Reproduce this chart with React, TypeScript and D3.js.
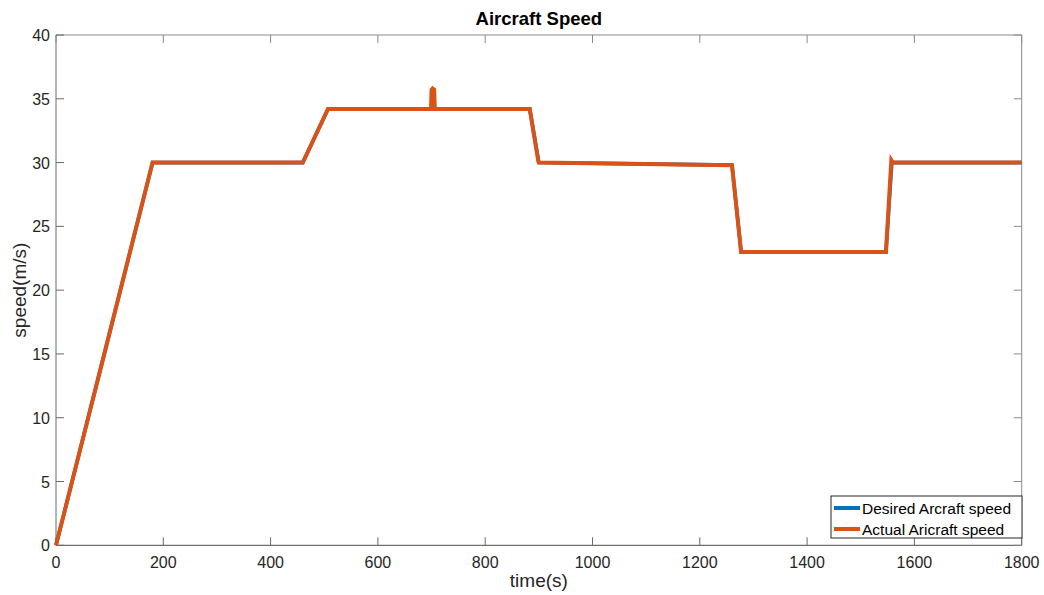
import React from "react";
import * as d3 from "d3";

// Time samples (s) and speeds (m/s)
const desiredTime = [0, 180, 460, 507, 883, 900, 1260, 1277, 1547, 1558, 1800];
const desiredSpeed = [0, 30, 30, 34.2, 34.2, 30, 29.8, 23, 23, 30, 30];

const actualTime = [0, 60, 180, 460, 507, 699, 700, 702, 705, 706, 883, 899, 900, 1260, 1277, 1547, 1557, 1560, 1800];
const actualSpeed = [0, 10, 30, 30, 34.2, 34.2, 35.7, 35.8, 35.7, 34.2, 34.2, 30.1, 30, 29.8, 23, 23, 30.2, 30, 30];

const xTicks = [0, 200, 400, 600, 800, 1000, 1200, 1400, 1600, 1800];
const yTicks = [0, 5, 10, 15, 20, 25, 30, 35, 40];

const legendLabels = ["Desired Arcraft speed", "Actual Aricraft speed"];
const seriesColors = ["#0072BD", "#D95319"];

const W = 1044;
const H = 595;
const left = 56;
const right = 1021.7;
const top = 35;
const bottom = 545.3;
const FONT = "'Liberation Sans', Arial, Helvetica, sans-serif";

export default function App() {
  const x = d3.scaleLinear().domain([0, 1800]).range([left, right]);
  const y = d3.scaleLinear().domain([0, 40]).range([bottom, top]);

  const line = d3
    .line<[number, number]>()
    .x((d) => x(d[0]))
    .y((d) => y(d[1]));

  const desired: [number, number][] = desiredTime.map((t, i) => [t, desiredSpeed[i]]);
  const actual: [number, number][] = actualTime.map((t, i) => [t, actualSpeed[i]]);

  const tickLen = 8;
  const axisColor = "#262626";

  const legX = 831;
  const legY = 496;
  const legW = 191;
  const legH = 42;

  return (
    <div style={{ position: "absolute", left: 0, top: 0, width: W, height: H, overflow: "hidden" }}>
      <svg width={W} height={H} style={{ display: "block", background: "#fff" }}>
        {/* axes frame */}
        <line x1={left} x2={right} y1={top} y2={top} stroke="#8a8a8a" strokeWidth={1} />
        <line x1={right} x2={right} y1={top} y2={bottom} stroke="#8a8a8a" strokeWidth={1} />
        <line x1={left} x2={right} y1={bottom} y2={bottom} stroke="#4a4a4a" strokeWidth={1} />
        <line x1={left} x2={left} y1={top} y2={bottom} stroke="#6a6a6a" strokeWidth={1} />

        {/* x ticks */}
        {xTicks.map((t) => (
          <g key={"x" + t}>
            <line x1={x(t)} x2={x(t)} y1={bottom} y2={bottom - tickLen} stroke="#6a6a6a" />
            <line x1={x(t)} x2={x(t)} y1={top} y2={top + tickLen} stroke="#8a8a8a" />
            <text
              x={x(t)}
              y={bottom + 23}
              textAnchor="middle"
              fontFamily={FONT}
              fontSize={16}
              fill={axisColor}
            >
              {t}
            </text>
          </g>
        ))}

        {/* y ticks */}
        {yTicks.map((v) => (
          <g key={"y" + v}>
            <line x1={left} x2={left + tickLen} y1={y(v)} y2={y(v)} stroke="#6a6a6a" />
            <line x1={right} x2={right - tickLen} y1={y(v)} y2={y(v)} stroke="#8a8a8a" />
            <text
              x={left - 6}
              y={y(v) + 6}
              textAnchor="end"
              fontFamily={FONT}
              fontSize={16}
              fill={axisColor}
            >
              {v}
            </text>
          </g>
        ))}

        {/* series */}
        <path d={line(desired) ?? ""} fill="none" stroke={seriesColors[0]} strokeWidth={3.6} />
        <path d={line(actual) ?? ""} fill="none" stroke={seriesColors[1]} strokeWidth={4} />

        {/* labels */}
        <text
          x={(left + right) / 2}
          y={25}
          textAnchor="middle"
          fontFamily={FONT}
          fontWeight="bold"
          fontSize={18.5}
          fill="#000"
        >
          Aircraft Speed
        </text>
        <text
          x={(left + right) / 2}
          y={587}
          textAnchor="middle"
          fontFamily={FONT}
          fontSize={19}
          fill={axisColor}
        >
          time(s)
        </text>
        <text
          transform={`translate(26, ${(top + bottom) / 2}) rotate(-90)`}
          textAnchor="middle"
          fontFamily={FONT}
          fontSize={19}
          fill={axisColor}
        >
          speed(m/s)
        </text>

        {/* legend */}
        <rect x={legX} y={legY} width={legW} height={legH} fill="#fff" stroke="#262626" strokeWidth={1} />
        {legendLabels.map((lab, i) => (
          <g key={lab}>
            <line
              x1={legX + 3}
              x2={legX + 29}
              y1={legY + 12 + i * 21}
              y2={legY + 12 + i * 21}
              stroke={seriesColors[i]}
              strokeWidth={4}
            />
            <text
              x={legX + 31}
              y={legY + 17.5 + i * 21}
              fontFamily={FONT}
              fontSize={15.5}
              fill="#000"
            >
              {lab}
            </text>
          </g>
        ))}
      </svg>
    </div>
  );
}
